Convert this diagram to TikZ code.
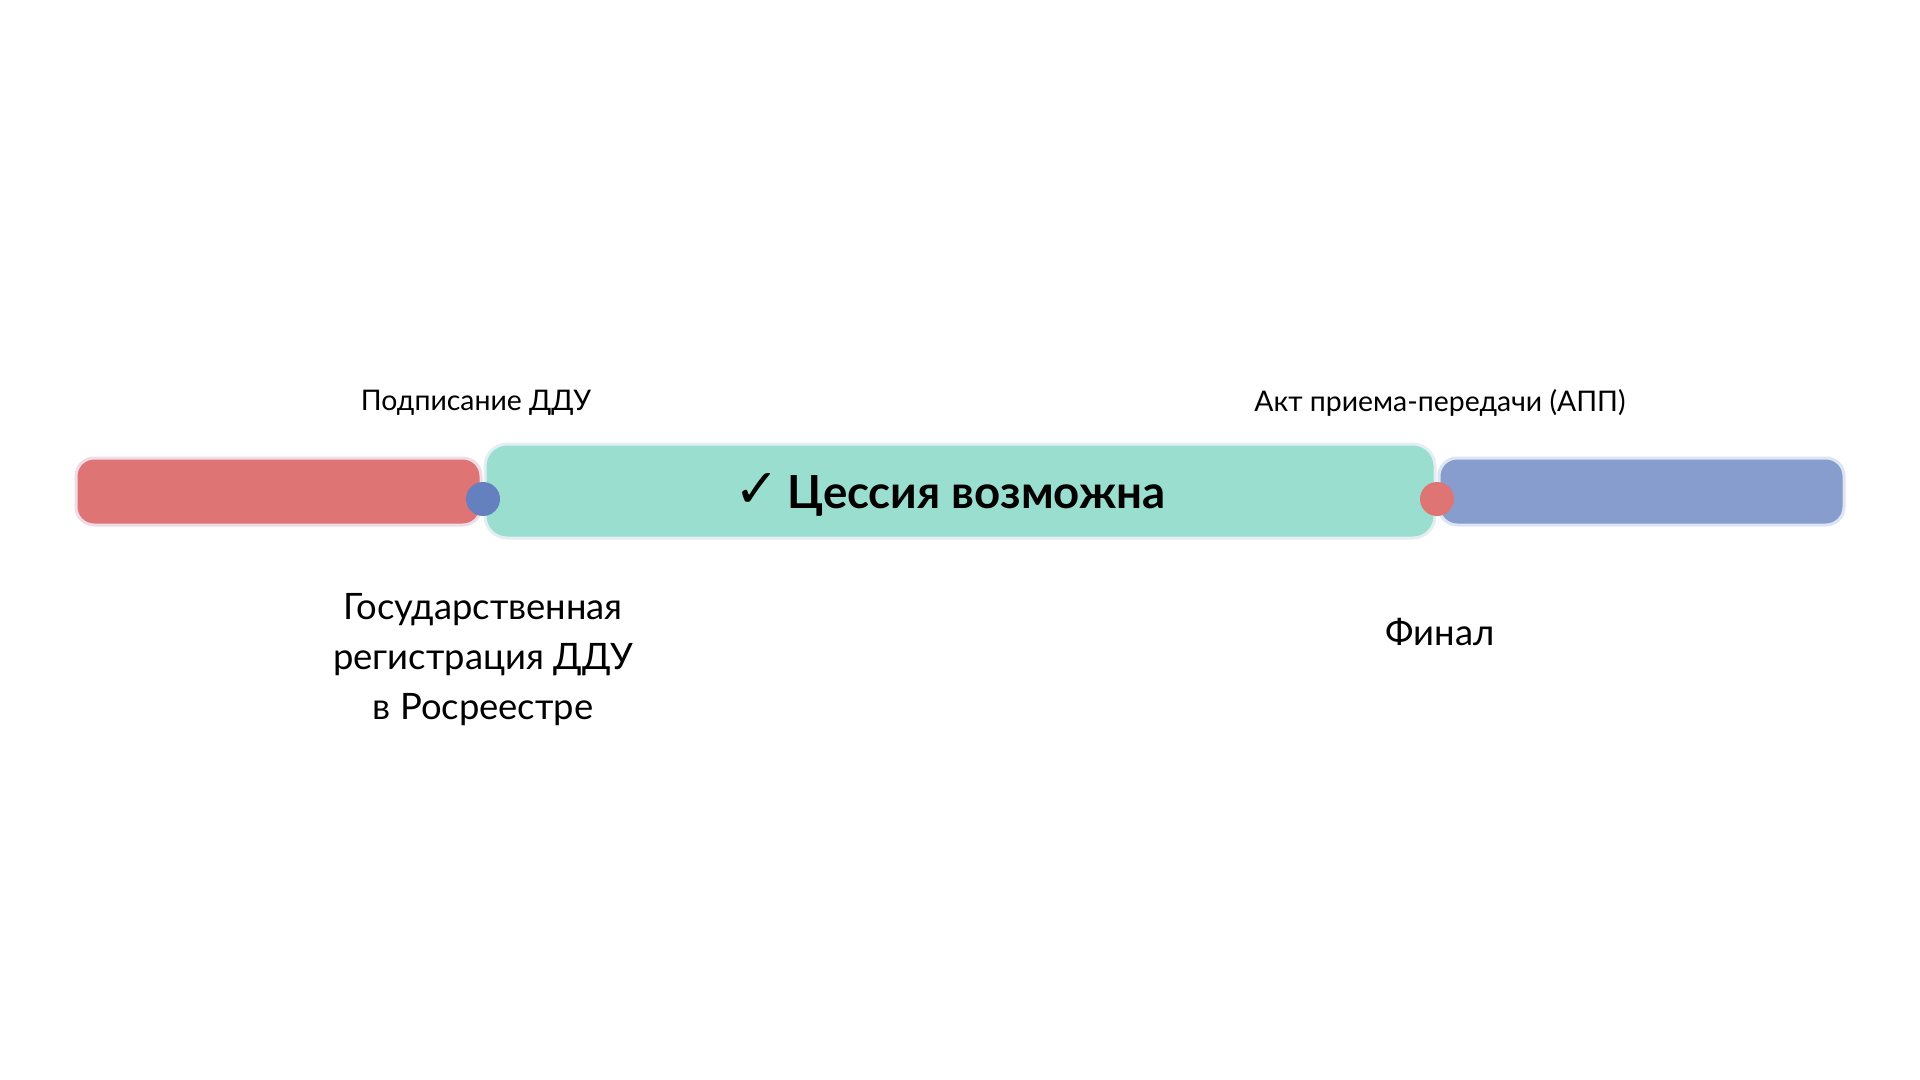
\documentclass[tikz,border=0pt]{standalone}
\usepackage{fontspec}
\setmainfont{Lato}
\newfontfamily\symfont{DejaVu Sans}
\definecolor{redbar}{HTML}{DE7473}
\definecolor{tealbar}{HTML}{9ADED0}
\definecolor{bluebar}{HTML}{879DCD}
\definecolor{bluedot}{HTML}{6580BE}
\definecolor{reddot}{HTML}{DE7473}
\definecolor{rededge}{HTML}{EEDDE6}
\definecolor{tealedge}{HTML}{E3EEF2}
\definecolor{blueedge}{HTML}{DDE4F2}
\begin{document}
\begin{tikzpicture}[x=0.5pt,y=-0.5pt,
  bar/.style={line width=1.5pt,rounded corners=9pt},
  dot/.style={circle,inner sep=0pt,minimum size=17pt},
  small/.style={font=\fontsize{14.2}{17}\selectfont,inner sep=0pt},
  big/.style={font=\fontsize{18.2}{25}\selectfont,align=center,inner sep=0pt},
  title/.style={font=\fontsize{22.8}{28}\selectfont\bfseries,inner sep=0pt}]
\useasboundingbox[fill=white] (0,0) rectangle (1920,1080);
\draw[bar,draw=rededge,fill=redbar] (76,458) rectangle (481,525);
\draw[bar,draw=blueedge,fill=bluebar] (1439,458) rectangle (1844,525);
\draw[bar,rounded corners=11pt,draw=tealedge,fill=tealbar] (485,444) rectangle (1435,538);
\node[title] (cess) at (950,495) {{\symfont\fontsize{27}{28}\selectfont\raisebox{0.5pt}{\char"2713}}\hspace{4pt}Цессия возможна};
\node[dot,fill=bluedot] (d1) at (483,499) {};
\node[dot,fill=reddot] (d2) at (1437,499) {};
\node[small] (sign) at (476,403) {Подписание ДДУ};
\node[small] (app) at (1440,403) {Акт приема-передачи (АПП)};
\node[big] (reg) at (483,660) {Государственная\\регистрация ДДУ\\в Росреестре};
\node[big] (fin) at (1440,632) {Финал};
\end{tikzpicture}
\end{document}
